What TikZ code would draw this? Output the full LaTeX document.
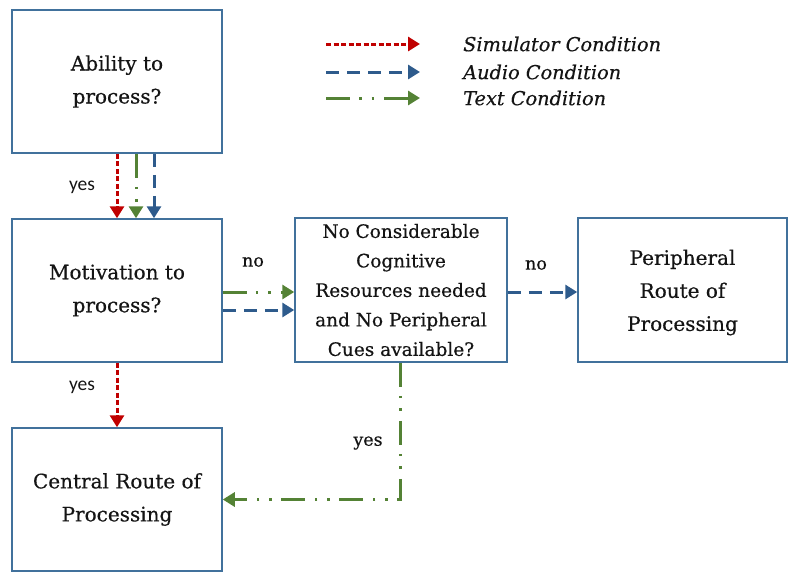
\documentclass[tikz,border=0pt]{standalone}
\usepackage{fontspec}
\setmainfont{DejaVu Serif}
\newfontfamily\boxfont{DejaVu Serif}[FakeBold=0.5]
\newfontfamily\labelsans{Carlito}
\usetikzlibrary{arrows.meta,calc}
\definecolor{cred}{HTML}{C00000}
\definecolor{cblue}{HTML}{2E5B8C}
\definecolor{cgreen}{HTML}{548235}
\definecolor{cbox}{HTML}{41719C}
\definecolor{ctext}{HTML}{141414}
\begin{document}
\begin{tikzpicture}[x=1pt,y=-1pt,
  box/.style={draw=cbox,line width=1.5pt,rectangle,inner sep=0pt,align=center,
    minimum width=210pt,minimum height=143pt,text=ctext,font=\boxfont\fontsize{20}{33}\selectfont},
  sbox/.style={box,font=\boxfont\fontsize{18.5}{29.5}\selectfont},
  boxtext/.style={inner sep=0pt,align=center,text=ctext,font=\boxfont\fontsize{20}{33}\selectfont},
  tip/.style={-{Triangle[length=12pt,width=14pt]}},
  simline/.style={tip,cred,line width=3pt,dash pattern=on 5pt off 2.5pt},
  audline/.style={tip,cblue,line width=3pt,dash pattern=on 13pt off 8pt},
  txtline/.style={tip,cgreen,line width=3pt,dash pattern=on 24pt off 9pt on 2.5pt off 10pt on 2.5pt off 10pt},
  leg/.style={anchor=west,inner sep=0pt,text=ctext,font=\boxfont\itshape\fontsize{19.3}{21}\selectfont},
  sanslab/.style={inner sep=0pt,text=ctext,font=\labelsans\fontsize{19.5}{21}\selectfont},
  seriflab/.style={inner sep=0pt,text=ctext,font=\boxfont\fontsize{17.5}{19}\selectfont}]
\useasboundingbox (0,0) rectangle (788,571);
% boxes
\node[box] (b1) at (117,81.5) {Ability to\\process?};
\node[box] (b2) at (117,290.5) {Motivation to\\process?};
\node[box] (b3) at (117,499.5) {Central Route of\\Processing};
\node[sbox,minimum width=212pt,minimum height=144pt] (b4) at (401,290) {No Considerable\\Cognitive\\Resources needed\\and No Peripheral\\Cues available?};
\node[box,minimum width=209pt,minimum height=144pt] (b5) at (682.5,290) {};
\node[boxtext] (b5t) at ([yshift=-2.5pt]b5.center) {Peripheral\\Route of\\Processing};
% legend
\coordinate (ls1) at (326,44); \coordinate (le1) at (420,44);
\coordinate (ls2) at (326,72); \coordinate (le2) at (420,72);
\coordinate (ls3) at (326,98); \coordinate (le3) at (420,98);
\draw[simline] (ls1) -- (le1);
\draw[audline] (ls2) -- (le2);
\draw[txtline] (ls3) -- (le3);
\node[leg] (t1) at (463,44) {Simulator Condition};
\node[leg] (t2) at (463,72) {Audio Condition};
\node[leg] (t3) at (463,98) {Text Condition};
% b1 -> b2
\draw[simline] (b1.south) -- (b2.north);
\draw[txtline] ([xshift=19pt]b1.south) -- ([xshift=19pt]b2.north);
\draw[audline] ([xshift=37pt]b1.south) -- ([xshift=37pt]b2.north);
\node[sanslab] (y1) at (82,187) {yes};
% b2 -> b4
\draw[txtline] ([yshift=-1.5pt]b2.east) coordinate (g1) -- (g1 -| b4.west);
\draw[audline] ([yshift=-19.5pt]b2.east) coordinate (a1) -- (a1 -| b4.west);
\node[seriflab] (n1) at (253,262) {no};
% b4 -> b5
\draw[audline] ([yshift=-2pt]b4.east) coordinate (a2) -- (a2 -| b5.west);
\node[seriflab] (n2) at (536,265) {no};
% b2 -> b3
\draw[simline] (b2.south) -- (b3.north);
\node[sanslab] (y2) at (82,387) {yes};
% b4 -> b3
\draw[txtline] ([xshift=-1pt]b4.south) |- (b3.east);
\node[seriflab] (y3) at (368,443) {yes};
\end{tikzpicture}
\end{document}
